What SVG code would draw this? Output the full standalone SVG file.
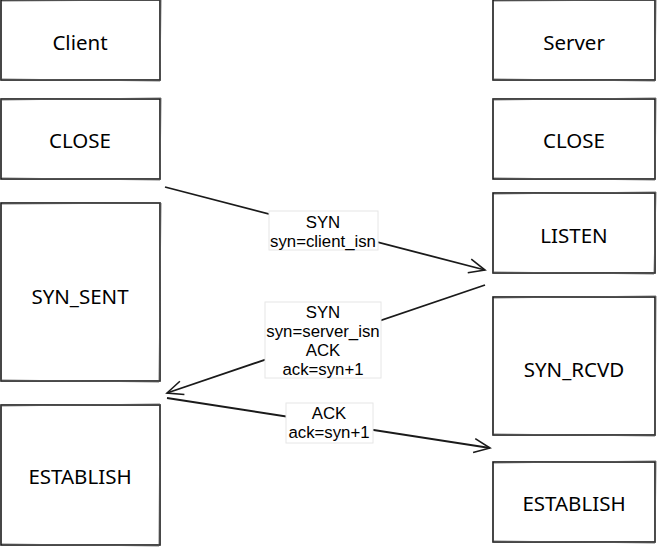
<svg xmlns="http://www.w3.org/2000/svg" width="665" height="556" viewBox="0 0 665 556">
<style>
.box{fill:#fff;stroke:#1a1a1a;stroke-width:1.6}
.box2{fill:none;stroke:#555;stroke-width:0.8}
.t{font-family:"Noto Sans","Open Sans",sans-serif;font-size:20.5px;fill:#000;text-anchor:middle;dominant-baseline:central}
.lbl{font-family:"Liberation Sans",Arial,sans-serif;font-size:16.8px;fill:#000;text-anchor:middle}
.lb{fill:#fff;stroke:#e6e6e6;stroke-width:1}
.edge{fill:none;stroke:#1a1a1a;stroke-width:1.8}
</style>
<defs>
<marker id="arr" viewBox="0 0 20 20" refX="18" refY="10" markerWidth="20" markerHeight="20" markerUnits="userSpaceOnUse" orient="auto">
<path d="M2,3 L18,10 L2,17" fill="none" stroke="#1a1a1a" stroke-width="1.6"/>
</marker>
</defs>
<rect width="665" height="556" fill="#fff"/>
<g id="client"><rect class="box" x="1" y="0" width="159" height="80"/><path class="box2" d="M2,1 L161,0 L160,81 L1,79"/><text class="t" x="80" y="42">Client</text></g>
<g id="client-close"><rect class="box" x="1" y="99" width="159" height="80"/><path class="box2" d="M0,100 L161,98 L160,180 L2,178"/><text class="t" x="80" y="140">CLOSE</text></g>
<g id="syn-sent"><rect class="box" x="1" y="203" width="159" height="178"/><path class="box2" d="M2,204 L161,203 L159,382 L0,380"/><text class="t" x="80" y="296">SYN_SENT</text></g>
<g id="client-establish"><rect class="box" x="1" y="405" width="159" height="140"/><path class="box2" d="M0,406 L160,404 L159,546 L2,544"/><text class="t" x="80" y="476">ESTABLISH</text></g>
<g id="server"><rect class="box" x="493" y="0" width="162" height="80"/><path class="box2" d="M494,1 L656,0 L655,81 L493,79"/><text class="t" x="574" y="42">Server</text></g>
<g id="server-close"><rect class="box" x="493" y="99" width="162" height="80"/><path class="box2" d="M492,100 L656,98 L655,180 L494,178"/><text class="t" x="574" y="140">CLOSE</text></g>
<g id="listen"><rect class="box" x="493" y="193" width="162" height="80"/><path class="box2" d="M494,194 L656,192 L654,274 L493,272"/><text class="t" x="574" y="235">LISTEN</text></g>
<g id="syn-rcvd"><rect class="box" x="493" y="297" width="162" height="138"/><path class="box2" d="M494,298 L656,296 L655,436 L493,434"/><text class="t" x="574" y="369">SYN_RCVD</text></g>
<g id="server-establish"><rect class="box" x="493" y="462" width="162" height="80"/><path class="box2" d="M494,463 L656,461 L655,543 L493,541"/><text class="t" x="574" y="503">ESTABLISH</text></g>
<g id="connectors">
<path class="edge" d="M165,187 L485,270" marker-end="url(#arr)"/>
<path class="edge" d="M485,285 L167,393" marker-end="url(#arr)"/>
<path class="edge" d="M167,398 L490,448" marker-end="url(#arr)"/>
<rect class="lb" x="269" y="211" width="109" height="39"/>
<text class="lbl" x="323" y="228">SYN</text>
<text class="lbl" x="323" y="247">syn=client_isn</text>
<rect class="lb" x="265" y="302" width="116" height="76"/>
<text class="lbl" x="323" y="318">SYN</text>
<text class="lbl" x="323" y="337">syn=server_isn</text>
<text class="lbl" x="323" y="356">ACK</text>
<text class="lbl" x="323" y="375">ack=syn+1</text>
<rect class="lb" x="286" y="403" width="87" height="40"/>
<text class="lbl" x="329" y="419">ACK</text>
<text class="lbl" x="329" y="438">ack=syn+1</text>
</g>
</svg>
